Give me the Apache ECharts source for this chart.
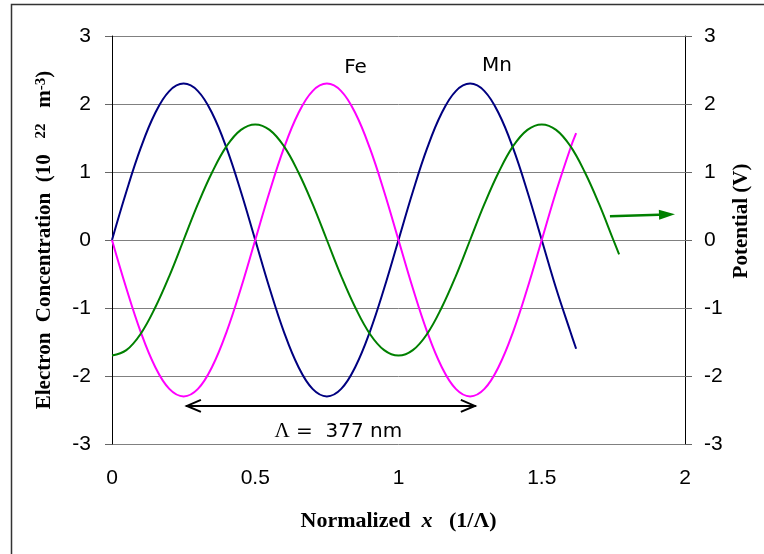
<!DOCTYPE html>
<html><head><meta charset="utf-8">
<script src="https://cdn.jsdelivr.net/npm/echarts@6/dist/echarts.min.js"></script>
<style>html,body{margin:0;padding:0;background:#fff}#c{width:764px;height:554px}</style>
</head><body><div id="c"></div>
<script>
// ---- data ----
const xConc = [0,0.05,0.1,0.15,0.2,0.25,0.3,0.35,0.4,0.45,0.5,0.55,0.6,0.65,0.7,0.75,0.8,0.85,0.9,0.95,1,1.05,1.1,1.15,1.2,1.25,1.3,1.35,1.4,1.45,1.5,1.55,1.6,1.62];
const mnConc = [0,0.71,1.35,1.86,2.19,2.3,2.19,1.86,1.35,0.71,0,-0.71,-1.35,-1.86,-2.19,-2.3,-2.19,-1.86,-1.35,-0.71,0,0.71,1.35,1.86,2.19,2.3,2.19,1.86,1.35,0.71,0,-0.71,-1.35,-1.6];
const feConc = [0,-0.71,-1.35,-1.86,-2.19,-2.3,-2.19,-1.86,-1.35,-0.71,0,0.71,1.35,1.86,2.19,2.3,2.19,1.86,1.35,0.71,0,-0.71,-1.35,-1.86,-2.19,-2.3,-2.19,-1.86,-1.35,-0.71,0,0.71,1.35,1.57];
const xPot = [0,0.05,0.1,0.15,0.2,0.25,0.3,0.35,0.4,0.45,0.5,0.55,0.6,0.65,0.7,0.75,0.8,0.85,0.9,0.95,1,1.05,1.1,1.15,1.2,1.25,1.3,1.35,1.4,1.45,1.5,1.55,1.6,1.65,1.7,1.75,1.77];
const potential = [-1.7,-1.62,-1.38,-1.0,-0.53,0,0.53,1.0,1.38,1.62,1.7,1.62,1.38,1.0,0.53,0,-0.53,-1.0,-1.38,-1.62,-1.7,-1.62,-1.38,-1.0,-0.53,0,0.53,1.0,1.38,1.62,1.7,1.62,1.38,1.0,0.53,0,-0.21];
const xTickLabels = ['0','0.5','1','1.5','2'];
const yTickLabels = ['-3','-2','-1','0','1','2','3'];
// annotations (data coordinates)
const curveLabels = [{text:'Fe', x:0.85, y:2.53},{text:'Mn', x:1.344, y:2.56}];
const periodArrow = {x1:0.258, x2:1.27, y:-2.44, label:'Λ = 377 nm', lx:0.79, ly:-2.82};
const potArrow = {x1:1.738, y1:0.35, x2:1.965, y2:0.38};

const zip = (xs, ys) => xs.map((x,i)=>[x, ys[i]]);
const sans = 'Liberation Sans, Arial, sans-serif';
const serif = 'Liberation Serif, Times New Roman, serif';

const chart = echarts.init(document.getElementById('c'));
const option = {
  animation:false,
  backgroundColor:'#fff',
  grid:{left:112, right:79, top:36, bottom:110, containLabel:false},
  xAxis:{type:'value', min:0, max:2, interval:0.5,
    axisLine:{show:false}, axisTick:{show:false}, splitLine:{show:false},
    axisLabel:{margin:24, fontSize:21, fontFamily:sans, color:'#000',
      formatter:(v)=>{const i=Math.round(v/0.5); return xTickLabels[i]!==undefined?xTickLabels[i]:'';}},
    name:'Normalized  {i|x}   (1/Λ)', nameLocation:'middle', nameGap:66,
    nameTextStyle:{fontFamily:serif, fontWeight:'bold', fontSize:22, color:'#000',
      rich:{i:{fontFamily:serif, fontWeight:'bold', fontStyle:'italic', fontSize:22, color:'#000'}}}
  },
  yAxis:[{type:'value', min:-3, max:3, interval:1, position:'left',
    axisLine:{show:true, lineStyle:{color:'#000', width:1}},
    axisTick:{show:true, inside:false, length:7, lineStyle:{color:'#666'}},
    axisLabel:{margin:21, fontSize:21, fontFamily:sans, color:'#000',
      formatter:(v)=>{const i=Math.round(v+3); return yTickLabels[i]!==undefined?yTickLabels[i]:'';}},
    splitLine:{show:true, lineStyle:{color:'#808080', width:1}},
    name:'Electron  Concentration  (10   {s|22}   m{s|-3})', nameLocation:'middle', nameGap:57, nameRotate:90,
    nameTextStyle:{fontFamily:serif, fontWeight:'bold', fontSize:21, color:'#000',
      rich:{s:{fontFamily:serif, fontWeight:'bold', fontSize:15, color:'#000', verticalAlign:'top'}}}
  },{type:'value', min:-3, max:3, interval:1, position:'right',
    axisLine:{show:true, lineStyle:{color:'#000', width:1}},
    axisTick:{show:true, inside:false, length:7, lineStyle:{color:'#666'}},
    axisLabel:{margin:19, fontSize:21, fontFamily:sans, color:'#000',
      formatter:(v)=>{const i=Math.round(v+3); return yTickLabels[i]!==undefined?yTickLabels[i]:'';}},
    splitLine:{show:false}
  }],
  series:[
    {name:'Mn', type:'line', data:zip(xConc, mnConc), smooth:0.4, showSymbol:false, symbol:'none',
      lineStyle:{color:'#000080', width:2}, yAxisIndex:0},
    {name:'Fe', type:'line', data:zip(xConc, feConc), smooth:0.4, showSymbol:false, symbol:'none',
      lineStyle:{color:'#FF00FF', width:2}, yAxisIndex:0},
    {name:'Potential', type:'line', data:zip(xPot, potential), smooth:0.4, showSymbol:false, symbol:'none',
      lineStyle:{color:'#008000', width:2}, yAxisIndex:1}
  ]
};
chart.setOption(option);

function px(x,y){ return chart.convertToPixel({gridIndex:0}, [x,y]); }
const g = [];
g.push({type:'rect', shape:{x:11.5, y:4.5, width:800, height:600}, style:{fill:'none', stroke:'#333', lineWidth:1.5}, z:-1, silent:true});
// right axis title
g.push({type:'text', x:742, y:221, rotation:Math.PI/2,
  style:{text:'Potential (V)', fontFamily:serif, fontWeight:'bold', fontSize:21, fill:'#000', align:'center', verticalAlign:'middle'}});
curveLabels.forEach(l=>{
  const p = px(l.x, l.y);
  g.push({type:'text', x:p[0], y:p[1], style:{text:l.text, fontFamily:'DejaVu Sans, Verdana, sans-serif', fontSize:20, fill:'#000', align:'center', verticalAlign:'middle'}});
});
// period double arrow
{
  const a = px(periodArrow.x1, periodArrow.y), b = px(periodArrow.x2, periodArrow.y);
  const st = {stroke:'#000', lineWidth:2, fill:'none'};
  g.push({type:'line', shape:{x1:a[0], y1:a[1], x2:b[0], y2:b[1]}, style:st});
  g.push({type:'polyline', shape:{points:[[a[0]+15,a[1]-6],[a[0]+1,a[1]],[a[0]+15,a[1]+6]]}, style:st});
  g.push({type:'polyline', shape:{points:[[b[0]-15,b[1]-6],[b[0]-1,b[1]],[b[0]-15,b[1]+6]]}, style:st});
  const t = px(periodArrow.lx, periodArrow.ly);
  g.push({type:'text', x:t[0], y:t[1], style:{text:'{l|Λ} =  377 nm', fontFamily:'DejaVu Sans, Verdana, sans-serif', fontSize:20, fill:'#000', align:'center', verticalAlign:'middle',
    rich:{l:{fontFamily:serif, fontSize:21, fill:'#000'}}}});
}
// potential arrow
{
  const a = px(potArrow.x1, potArrow.y1), b = px(potArrow.x2, potArrow.y2);
  const dx=b[0]-a[0], dy=b[1]-a[1], L=Math.hypot(dx,dy), ux=dx/L, uy=dy/L;
  const hl=16, hw=5;
  const base=[b[0]-ux*hl, b[1]-uy*hl];
  g.push({type:'line', shape:{x1:a[0], y1:a[1], x2:base[0], y2:base[1]}, style:{stroke:'#008000', lineWidth:2.5}});
  g.push({type:'polygon', shape:{points:[[b[0],b[1]],[base[0]-uy*hw, base[1]+ux*hw],[base[0]+uy*hw, base[1]-ux*hw]]}, style:{fill:'#008000'}});
}
chart.setOption({graphic:g});
</script></body></html>
